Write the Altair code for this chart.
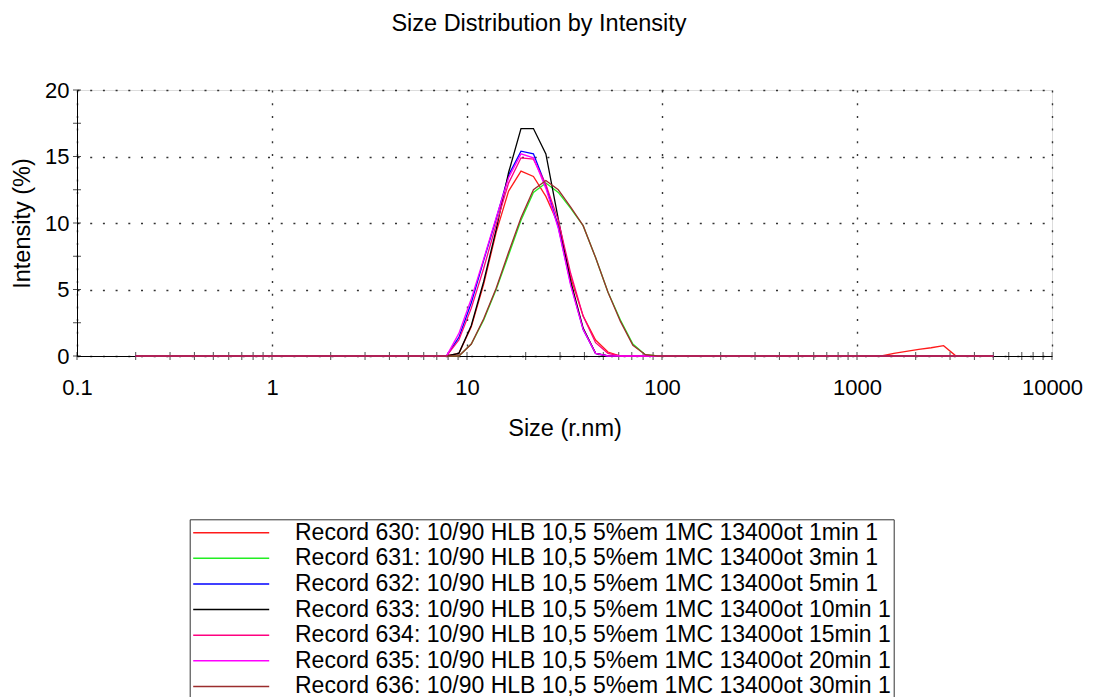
import altair as alt
import pandas as pd

# Size bins (radius, nm)
sizes = [0.2, 0.2316, 0.2683, 0.3107, 0.3598, 0.4166, 0.4825, 0.5585, 0.647, 0.7495,
         0.868, 1.005, 1.164, 1.348, 1.561, 1.808, 2.094, 2.425, 2.808, 3.252,
         3.766, 4.361, 5.05, 5.85, 6.77, 7.845, 9.085, 10.52, 12.18, 14.11,
         16.34, 18.92, 21.91, 25.38, 29.39, 34.03, 39.41, 45.64, 52.85, 61.2,
         70.9, 82.1, 95.05, 110.1, 127.5, 147.7, 171.0, 198.1, 229.4, 265.6,
         307.6, 356.2, 412.5, 477.7, 553.0, 640.5, 742.0, 859.0, 995.0, 1153,
         1335, 1546, 1790, 2073, 2401, 2780, 3220, 3728, 4318, 5000]

rec630 = [0, 0, 0, 0, 0, 0, 0, 0, 0, 0,
          0, 0, 0, 0, 0, 0, 0, 0, 0, 0,
          0, 0, 0, 0, 0, 0, 0.2, 2.2, 5.4, 9.3,
          12.4, 13.9, 13.5, 12.0, 9.9, 5.9, 3.0, 1.2, 0.3, 0,
          0, 0, 0, 0, 0, 0, 0, 0, 0, 0,
          0, 0, 0, 0, 0, 0, 0, 0, 0, 0,
          0, 0.2, 0.35, 0.5, 0.62, 0.78, 0, 0, 0, 0]
rec631 = [0, 0, 0, 0, 0, 0, 0, 0, 0, 0,
          0, 0, 0, 0, 0, 0, 0, 0, 0, 0,
          0, 0, 0, 0, 0, 0, 0, 0.9, 2.7, 5.0,
          7.6, 10.2, 12.3, 13.0, 12.3, 11.1, 9.8, 7.4, 4.8, 2.7,
          0.9, 0.1, 0, 0, 0, 0, 0, 0, 0, 0,
          0, 0, 0, 0, 0, 0, 0, 0, 0, 0,
          0, 0, 0, 0, 0, 0, 0, 0, 0, 0]
rec632 = [0, 0, 0, 0, 0, 0, 0, 0, 0, 0,
          0, 0, 0, 0, 0, 0, 0, 0, 0, 0,
          0, 0, 0, 0, 0, 0, 1.4, 4.0, 7.2, 10.3,
          13.6, 15.4, 15.2, 12.8, 9.7, 5.4, 2.0, 0.2, 0, 0,
          0, 0, 0, 0, 0, 0, 0, 0, 0, 0,
          0, 0, 0, 0, 0, 0, 0, 0, 0, 0,
          0, 0, 0, 0, 0, 0, 0, 0, 0, 0]
rec633 = [0, 0, 0, 0, 0, 0, 0, 0, 0, 0,
          0, 0, 0, 0, 0, 0, 0, 0, 0, 0,
          0, 0, 0, 0, 0, 0, 0.2, 2.3, 5.6, 9.5,
          13.8, 17.1, 17.1, 15.2, 10.3, 5.6, 2.1, 0.2, 0, 0,
          0, 0, 0, 0, 0, 0, 0, 0, 0, 0,
          0, 0, 0, 0, 0, 0, 0, 0, 0, 0,
          0, 0, 0, 0, 0, 0, 0, 0, 0, 0]
rec634 = [0, 0, 0, 0, 0, 0, 0, 0, 0, 0,
          0, 0, 0, 0, 0, 0, 0, 0, 0, 0,
          0, 0, 0, 0, 0, 0, 1.2, 3.6, 6.6, 9.9,
          13.0, 14.9, 14.8, 12.9, 10.2, 6.2, 3.0, 1.0, 0.2, 0,
          0, 0, 0, 0, 0, 0, 0, 0, 0, 0,
          0, 0, 0, 0, 0, 0, 0, 0, 0, 0,
          0, 0, 0, 0, 0, 0, 0, 0, 0, 0]
rec635 = [0, 0, 0, 0, 0, 0, 0, 0, 0, 0,
          0, 0, 0, 0, 0, 0, 0, 0, 0, 0,
          0, 0, 0, 0, 0, 0, 1.7, 4.3, 7.3, 10.4,
          13.4, 15.2, 14.9, 12.6, 9.6, 5.3, 2.0, 0.2, 0, 0,
          0, 0, 0, 0, 0, 0, 0, 0, 0, 0,
          0, 0, 0, 0, 0, 0, 0, 0, 0, 0,
          0, 0, 0, 0, 0, 0, 0, 0, 0, 0]
rec636 = [0, 0, 0, 0, 0, 0, 0, 0, 0, 0,
          0, 0, 0, 0, 0, 0, 0, 0, 0, 0,
          0, 0, 0, 0, 0, 0, 0, 0.9, 2.8, 5.1,
          7.8, 10.4, 12.5, 13.2, 12.5, 11.2, 9.8, 7.4, 4.8, 2.6,
          0.8, 0.1, 0, 0, 0, 0, 0, 0, 0, 0,
          0, 0, 0, 0, 0, 0, 0, 0, 0, 0,
          0, 0, 0, 0, 0, 0, 0, 0, 0, 0]

records = [
    "Record 630: 10/90 HLB 10,5 5%em 1MC 13400ot 1min 1",
    "Record 631: 10/90 HLB 10,5 5%em 1MC 13400ot 3min 1",
    "Record 632: 10/90 HLB 10,5 5%em 1MC 13400ot 5min 1",
    "Record 633: 10/90 HLB 10,5 5%em 1MC 13400ot 10min 1",
    "Record 634: 10/90 HLB 10,5 5%em 1MC 13400ot 15min 1",
    "Record 635: 10/90 HLB 10,5 5%em 1MC 13400ot 20min 1",
    "Record 636: 10/90 HLB 10,5 5%em 1MC 13400ot 30min 1",
]
colors = ["#ff1a1a", "#22ee22", "#0000ff", "#000000", "#ff0080", "#ff00ff", "#9b2d2d"]
series = [rec630, rec631, rec632, rec633, rec634, rec635, rec636]

x_major = [0.1, 1, 10, 100, 1000, 10000]
x_ticks = [0.1, 0.2, 0.3, 0.4, 0.5, 0.6, 0.7, 0.8, 0.9,
           1, 2, 3, 4, 5, 6, 7, 8, 9,
           10, 20, 30, 40, 50, 60, 70, 80, 90,
           100, 200, 300, 400, 500, 600, 700, 800, 900,
           1000, 2000, 3000, 4000, 5000, 6000, 7000, 8000, 9000, 10000]
y_major = [0, 5, 10, 15, 20]
y_ticks = [0, 2.5, 5, 7.5, 10, 12.5, 15, 17.5, 20]

rows = []
for rec, vals in zip(records, series):
    for s, v in zip(sizes, vals):
        rows.append({"size": s, "intensity": v, "record": rec})
df = pd.DataFrame(rows)

FONT = "Liberation Sans"

xenc = alt.X("size:Q",
             scale=alt.Scale(type="log", domain=[0.1, 10000], nice=False),
             axis=alt.Axis(values=x_major, format="~g", title="Size (r.nm)",
                           grid=True, gridDash=[2, 10.7], gridColor="#333", gridWidth=1.4,
                           ticks=False, tickSize=0, domainColor="black", domainWidth=1,
                           labelFont=FONT, labelFontSize=22, labelColor="black",
                           labelPadding=21, labelFlush=False, labelOverlap=False,
                           titleFont=FONT, titleFontSize=23.5, titleFontWeight="normal",
                           titleColor="black", titleBaseline="alphabetic", titleY=79))
yenc = alt.Y("intensity:Q",
             scale=alt.Scale(domain=[0, 20], nice=False),
             axis=alt.Axis(values=y_major, title="Intensity (%)",
                           grid=True, gridDash=[2, 10.7], gridColor="#333", gridWidth=1.4,
                           ticks=False, tickSize=0, domainColor="black", domainWidth=1,
                           labelFont=FONT, labelFontSize=22, labelColor="black",
                           labelPadding=8, labelFlush=False,
                           titleFont=FONT, titleFontSize=23.5, titleFontWeight="normal",
                           titleColor="black", titleAngle=270, titleBaseline="alphabetic",
                           titleX=-48, titleY=133, titleAlign="center"))

lines = alt.Chart(df).mark_line(strokeWidth=1.3).encode(
    x=xenc,
    y=yenc,
    color=alt.Color("record:N",
                    scale=alt.Scale(domain=records, range=colors),
                    legend=alt.Legend(title=None, orient="none", legendX=112.7, legendY=429.3,
                                      direction="vertical",
                                      symbolType="M-9.5,0H9.5", symbolSize=64,
                                      symbolStrokeWidth=1.5,
                                      labelFont=FONT, labelFontSize=23, labelColor="black",
                                      labelLimit=1000, labelOffset=52.3, symbolOffset=28.1,
                                      padding=1.9, rowPadding=1.63,
                                      strokeColor="#333", fillColor="white")),
)

xt_df = pd.DataFrame({"size": x_ticks, "intensity": [0] * len(x_ticks)})
yt_df = pd.DataFrame({"size": [0.1] * len(y_ticks), "intensity": y_ticks})

xtick_layer = alt.Chart(xt_df).mark_tick(orient="vertical", size=8, thickness=1, color="black").encode(x=xenc, y=yenc)
ytick_layer = alt.Chart(yt_df).mark_tick(orient="horizontal", size=8, thickness=1, color="black").encode(x=xenc, y=yenc)

chart = alt.layer(xtick_layer, ytick_layer, lines).properties(
    width=975,
    height=266,
    title=alt.TitleParams("Size Distribution by Intensity", font=FONT, fontSize=23.5,
                          fontWeight="normal", color="black", anchor="middle",
                          frame="group", offset=24.5, baseline="alphabetic", dx=-25.5),
    autosize=alt.AutoSizeParams(type="none"),
    padding={"left": 69, "top": 82, "right": 33, "bottom": 341},
).configure_view(strokeWidth=0).configure(background="white")

chart.save("out.html", embed_options={"renderer": "svg", "actions": False})
